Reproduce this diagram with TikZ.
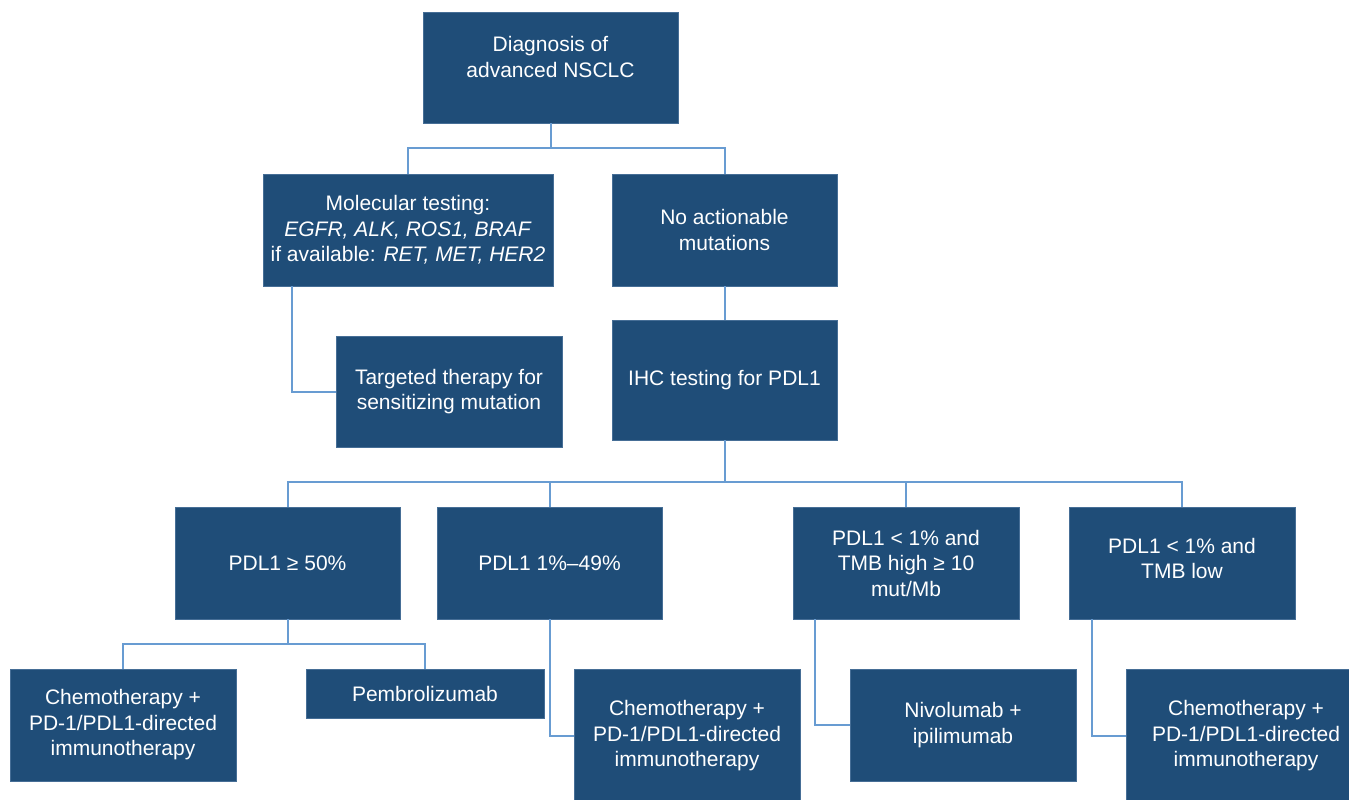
\documentclass[tikz,border=0pt]{standalone}
\usepackage{fontspec}
\setmainfont{Liberation Sans}
\definecolor{boxblue}{RGB}{31,77,120}
\definecolor{edgeblue}{RGB}{70,110,150}
\definecolor{linkblue}{RGB}{104,156,210}

\begin{document}
\begin{tikzpicture}[
    x=1pt, y=-1pt,
    box/.style={rectangle, fill=boxblue, draw=edgeblue, line width=0.8pt, text=white, align=center,
        inner sep=2pt, font=\fontsize{21}{25.5}\selectfont, minimum width=225pt, minimum height=112pt},
    link/.style={draw=linkblue, line width=2pt},
    ]
    \useasboundingbox (0,0) rectangle (1349,800);
    % top levels
    \node[box, minimum width=255pt, minimum height=111pt] (diag) at (550.5,67.5) {Diagnosis of\\advanced NSCLC\\[-4pt]\mbox{}};
    \node[box, minimum width=290pt] (mol) at (408,230) {Molecular testing:\\\textit{EGFR, ALK, ROS1, BRAF}\\if available: \textit{RET, MET, HER2}};
    \node[box] (noact) at (724.5,230) {No actionable\\mutations};
    \node[box, minimum width=226pt, minimum height=111pt] (targ) at (449,391.5) {Targeted therapy for\\sensitizing mutation};
    \node[box, minimum height=120pt] (ihc) at (724.5,380) {IHC testing for PDL1};
    % PDL1 groups
    \node[box] (hi) at (287.5,563) {PDL1 ≥ 50\%};
    \node[box] (mid) at (549.5,563) {PDL1 1\%–49\%};
    \node[box, minimum width=226pt] (tmbh) at (906,563) {PDL1 < 1\% and\\TMB high ≥ 10\\mut/Mb};
    \node[box, minimum width=226pt] (tmbl) at (1182,563) {PDL1 < 1\% and\\TMB low\\[-16pt]\mbox{}};
    % treatments
    \node[box, minimum width=226pt] (chemoA) at (123,725) {Chemotherapy +\\PD-1/PDL1-directed\\immunotherapy};
    \node[box, minimum width=238pt, minimum height=49pt] (pembro) at (425,693.5) {Pembrolizumab};
    \node[box, minimum width=226pt, minimum height=134pt] (chemoB) at (687,736) {Chemotherapy +\\PD-1/PDL1-directed\\immunotherapy};
    \node[box, minimum width=226pt] (nivo) at (963,725) {Nivolumab +\\ipilimumab};
    \node[box, minimum width=240pt, minimum height=134pt] (chemoC) at (1246,736) {Chemotherapy +\\PD-1/PDL1-directed\\immunotherapy};

    % connectors
    \coordinate (j1) at (550.5,148);
    \coordinate (j2) at (724.5,482);
    \coordinate (j3) at (287.5,644);
    \draw[link] (diag.south) -- (j1);
    \draw[link] (mol.north) |- (j1) -| (noact.north);
    \draw[link] ([xshift=29pt]mol.south west) |- (targ.west);
    \draw[link] (noact.south) -- (ihc.north);
    \draw[link] (ihc.south) -- (j2);
    \draw[link] (hi.north) |- (j2) -| (tmbl.north);
    \draw[link] (mid.north) -- (mid.north |- j2);
    \draw[link] (tmbh.north) -- (tmbh.north |- j2);
    \draw[link] (hi.south) -- (j3);
    \draw[link] (chemoA.north) |- (j3) -| (pembro.north);
    \draw[link] (mid.south) |- (chemoB.west);
    \draw[link] ([xshift=22pt]tmbh.south west) |- (nivo.west);
    \draw[link] ([xshift=23pt]tmbl.south west) |- (chemoC.west);
\end{tikzpicture}
\end{document}
